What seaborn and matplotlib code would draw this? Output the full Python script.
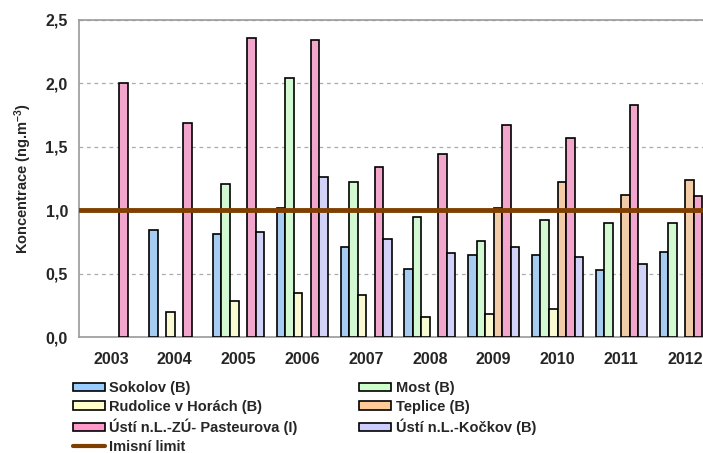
import numpy as np
import pandas as pd
import seaborn as sns
import matplotlib.pyplot as plt
from matplotlib.patches import Patch
from matplotlib.lines import Line2D
from matplotlib.ticker import FuncFormatter

# Years (x categories)
years = ["2003", "2004", "2005", "2006", "2007", "2008", "2009", "2010", "2011", "2012"]

# Concentrations per station (ng.m-3), NaN = no measurement
sokolov = [np.nan, 0.84, 0.81, 1.015, 0.71, 0.54, 0.645, 0.645, 0.53, 0.67]
most = [np.nan, np.nan, 1.21, 2.045, 1.22, 0.95, 0.755, 0.92, 0.90, 0.90]
rudolice = [np.nan, 0.20, 0.28, 0.35, 0.33, 0.155, 0.18, 0.22, np.nan, np.nan]
teplice = [np.nan, np.nan, np.nan, np.nan, np.nan, np.nan, 1.015, 1.22, 1.12, 1.235]
pasteurova = [2.00, 1.69, 2.36, 2.34, 1.34, 1.445, 1.675, 1.57, 1.83, 1.11]
kockov = [np.nan, np.nan, 0.83, 1.26, 0.77, 0.66, 0.71, 0.63, 0.575, np.nan]

limit_value = 1.0

stations = ["Sokolov (B)", "Most (B)", "Rudolice v Horách (B)", "Teplice (B)",
            "Ústí n.L.-ZÚ- Pasteurova (I)", "Ústí n.L.-Kočkov (B)"]
colors = ["#99CCFF", "#CCFFCC", "#FFFFCC", "#FFCC99", "#FF99CC", "#CCCCFF"]
limit_color = "#7F3F00"

series = [sokolov, most, rudolice, teplice, pasteurova, kockov]
rows = []
for name, vals in zip(stations, series):
    for y, v in zip(years, vals):
        rows.append({"rok": y, "stanice": name, "hodnota": v})
df = pd.DataFrame(rows)

sns.set_style("white")
plt.rcParams["font.family"] = ["Liberation Sans", "DejaVu Sans"]
plt.rcParams["font.weight"] = "bold"
plt.rcParams["mathtext.fontset"] = "custom"
plt.rcParams["mathtext.rm"] = "Liberation Sans:bold"
plt.rcParams["mathtext.default"] = "regular"

fig = plt.figure(figsize=(7.03, 4.53), dpi=100)
ax = fig.add_axes([79 / 703, 116 / 453, 638 / 703, 317 / 453])

sns.barplot(data=df, x="rok", y="hodnota", hue="stanice", order=years,
            hue_order=stations, palette=colors, width=0.8,
            edgecolor="black", linewidth=1.2, ax=ax, legend=False, zorder=3)

ax.axhline(limit_value, color=limit_color, lw=3.5, zorder=5)

ax.set_ylim(0, 2.5)
ax.set_xlim(-0.5, 9.5)
ax.set_yticks([0, 0.5, 1.0, 1.5, 2.0, 2.5])
ax.yaxis.set_major_formatter(FuncFormatter(lambda v, p: f"{v:.1f}".replace(".", ",")))
ax.grid(axis="y", color="#AAAAAA", linestyle=(0, (3, 3)), lw=0.9, zorder=0)
ax.set_axisbelow(True)

ax.set_xlabel("")
ax.set_ylabel("Koncentrace (ng.m$^{-3}$)", fontsize=10.5, fontweight="bold", labelpad=8)
ax.tick_params(axis="x", length=0, labelsize=11.5, pad=11)
ax.tick_params(axis="y", length=4, color="#888888", labelsize=11.5, pad=4)
ax.set_xticks(np.arange(-0.5, 10, 1), minor=True)
ax.tick_params(axis="x", which="minor", length=5, color="#888888", direction="out")
for lab in ax.get_xticklabels() + ax.get_yticklabels():
    lab.set_fontweight("bold")

for side in ["left", "bottom", "top"]:
    ax.spines[side].set_color("#999999")
    ax.spines[side].set_linewidth(1.2)
ax.spines["right"].set_visible(False)

# legend, column-wise order: left column then right column
handles = [Patch(facecolor=c, edgecolor="black", lw=1.2) for c in colors]
limit_handle = Line2D([0], [0], color=limit_color, lw=3)
order_h = [handles[0], handles[2], handles[4], limit_handle, handles[1], handles[3], handles[5]]
order_l = [stations[0], stations[2], stations[4], "Imisní limit", stations[1], stations[3], stations[5]]
fig.legend(order_h, order_l, ncol=2, loc="upper left", bbox_to_anchor=(73 / 703, 1 - 381 / 453),
           frameon=False, handlelength=2.2, handleheight=0.5, handletextpad=0.3,
           labelspacing=0.33, columnspacing=4.2, borderaxespad=0, borderpad=0,
           prop={"weight": "bold", "size": 10.5})

fig.savefig("out.png", dpi=100)
